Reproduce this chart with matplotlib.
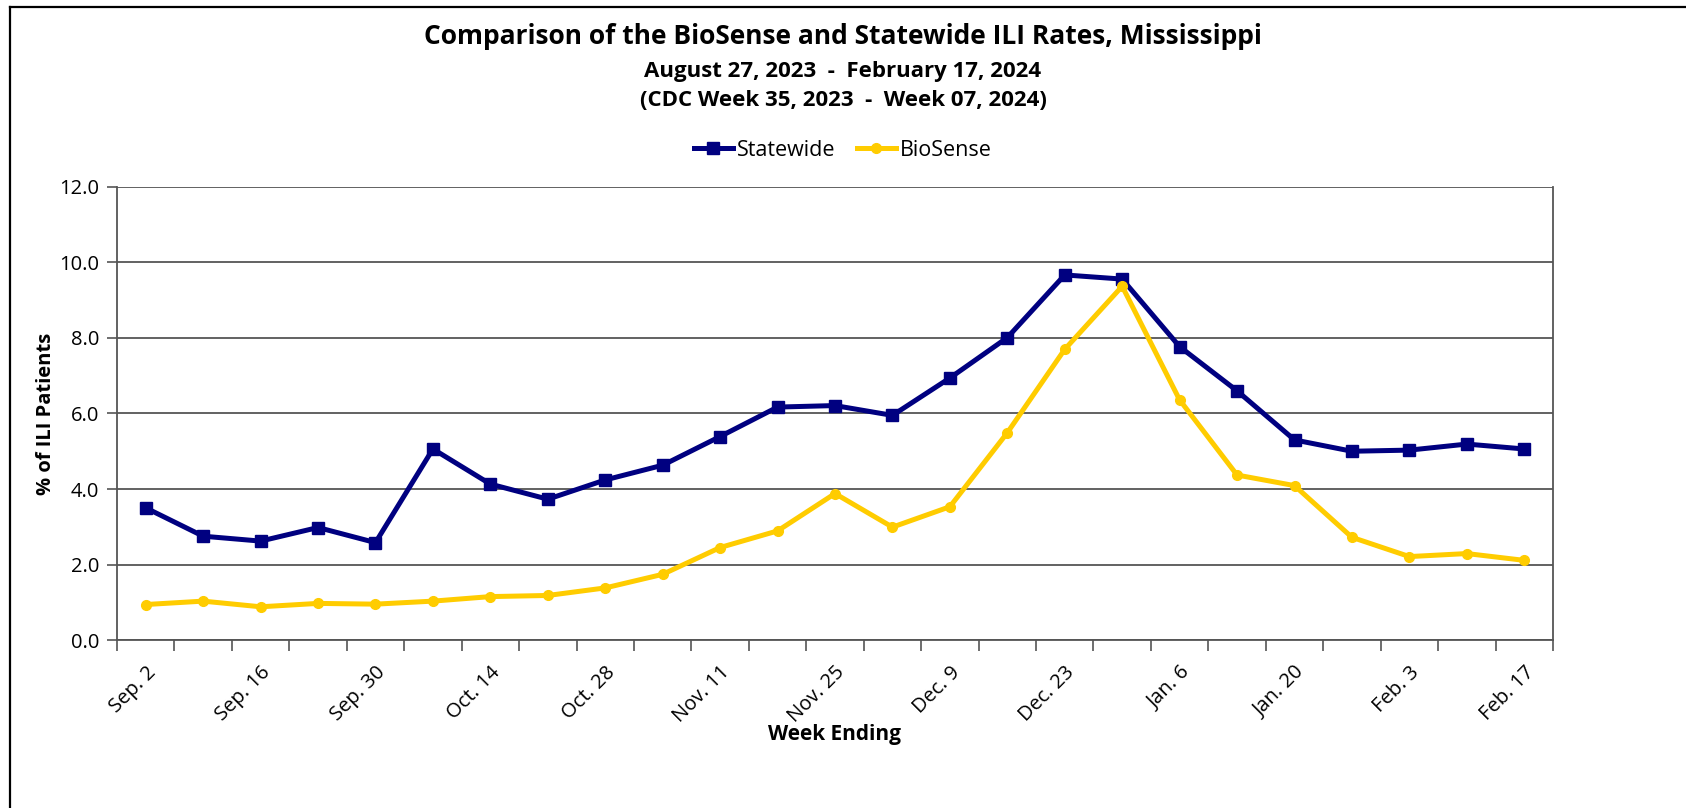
import numpy as np
import matplotlib
matplotlib.use('Agg')
import matplotlib.pyplot as plt
from matplotlib.lines import Line2D

plt.rcParams['font.family'] = ['Open Sans', 'DejaVu Sans']

# data
weeks = ['Sep. 2', 'Sep. 9', 'Sep. 16', 'Sep. 23', 'Sep. 30', 'Oct. 7', 'Oct. 14',
         'Oct. 21', 'Oct. 28', 'Nov. 4', 'Nov. 11', 'Nov. 18', 'Nov. 25', 'Dec. 2',
         'Dec. 9', 'Dec. 16', 'Dec. 23', 'Dec. 30', 'Jan. 6', 'Jan. 13', 'Jan. 20',
         'Jan. 27', 'Feb. 3', 'Feb. 10', 'Feb. 17']
statewide = [3.50, 2.75, 2.62, 2.98, 2.58, 5.06, 4.13, 3.73, 4.24, 4.63, 5.39, 6.17,
             6.21, 5.95, 6.94, 8.01, 9.67, 9.56, 7.77, 6.60, 5.30, 5.00, 5.03, 5.19, 5.06]
biosense = [0.94, 1.03, 0.88, 0.97, 0.95, 1.03, 1.15, 1.18, 1.38, 1.74, 2.45, 2.89,
            3.88, 2.99, 3.53, 5.49, 7.70, 9.37, 6.36, 4.37, 4.09, 2.72, 2.21, 2.29, 2.11]

x = np.arange(len(weeks))

fig = plt.figure(figsize=(16.86, 8.08), dpi=100)
ax = fig.add_axes([0.0694, 0.2079, 0.8517, 0.5607])

ax.plot(x, statewide, color='#000080', lw=3.6, marker='s', ms=8.5, label='Statewide', zorder=3)
ax.plot(x, biosense, color='#FFCC00', lw=3.6, marker='o', ms=7, label='BioSense', zorder=3)

ax.set_xlim(-0.5, len(weeks) - 0.5)
ax.set_ylim(0, 12)
ax.set_yticks(np.arange(0, 12.1, 2))
ax.set_yticklabels([f'{v:.1f}' for v in np.arange(0, 12.1, 2)], fontsize=14.5)
ax.yaxis.grid(True, color='#555555', lw=1.3)
ax.set_axisbelow(True)

ax.set_xticks(x[::2])
ax.set_xticklabels(weeks[::2], rotation=45, ha='right', rotation_mode='anchor', fontsize=14.5)
ax.set_xticks(np.arange(-0.5, len(weeks)), minor=True)
ax.tick_params(axis='x', which='major', length=0, pad=16)
ax.tick_params(axis='x', which='minor', length=8, color='#555555', width=1.2)
ax.tick_params(axis='y', length=7, color='#555555', width=1.2, pad=6)

for s in ['left', 'right', 'bottom']:
    ax.spines[s].set_color('#555555')
    ax.spines[s].set_linewidth(1.3)
ax.spines['top'].set_visible(False)

ax.set_ylabel('% of ILI Patients', fontsize=14.5, fontweight='bold', labelpad=2)
ax.set_xlabel('Week Ending', fontsize=15, fontweight='bold', labelpad=-2)

fig.text(0.5, 0.955, 'Comparison of the BioSense and Statewide ILI Rates, Mississippi',
         ha='center', va='center', fontsize=19, fontweight='bold')
fig.text(0.5, 0.911, 'August 27, 2023  -  February 17, 2024',
         ha='center', va='center', fontsize=16, fontweight='bold')
fig.text(0.5, 0.875, '(CDC Week 35, 2023  -  Week 07, 2024)',
         ha='center', va='center', fontsize=16, fontweight='bold')

fig.legend(loc='center', bbox_to_anchor=(0.5, 0.814), ncol=2, frameon=False,
           fontsize=15.5, handlelength=1.8, handletextpad=0.2, columnspacing=1.0)

# chart frame: only top and left edges are visible in the original
top_y = 1 - 6.5 / 808
left_x = 9.5 / 1686
fig.lines.append(Line2D([left_x, 1], [top_y, top_y], transform=fig.transFigure,
                        color='black', lw=1.6))
fig.lines.append(Line2D([left_x, left_x], [0, top_y], transform=fig.transFigure,
                        color='black', lw=1.6))

plt.savefig('out.png', dpi=100)
